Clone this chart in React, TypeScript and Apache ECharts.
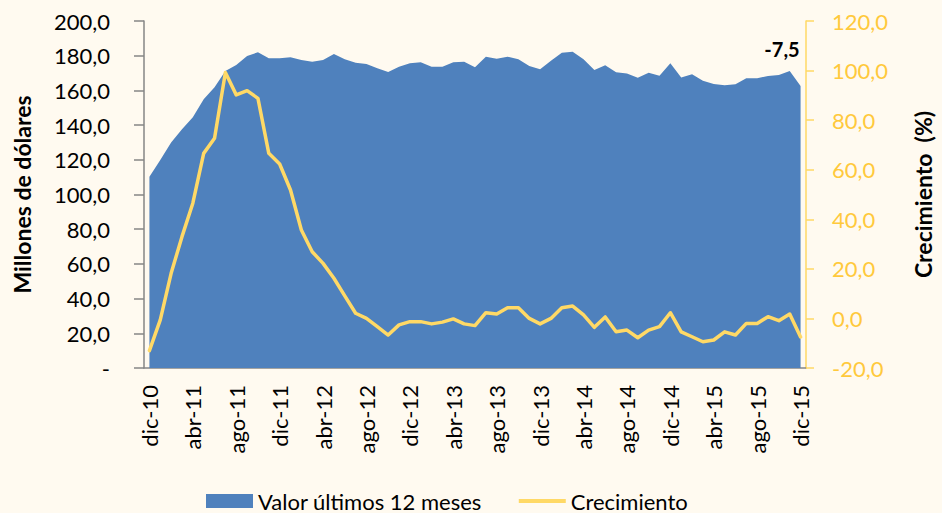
import React, { useEffect, useRef } from "react";
import * as echarts from "echarts";

const months = ["ene", "feb", "mar", "abr", "may", "jun", "jul", "ago", "sep", "oct", "nov", "dic"];
const categories: string[] = (() => {
  const out: string[] = ["dic-10"];
  for (let y = 11; y <= 15; y++) for (const m of months) out.push(`${m}-${y}`);
  return out;
})();

const valor: number[] = [
  110.3, 119.9, 129.9, 137.6, 144.5, 154.9, 161.8, 171.2, 174.6, 179.8,
  182.0, 178.5, 178.5, 179.1, 177.5, 176.5, 177.5, 181.0, 177.9, 176.0,
  175.2, 172.7, 170.6, 173.7, 175.6, 176.2, 173.7, 173.7, 176.2, 176.5,
  173.3, 179.4, 178.3, 179.4, 177.9, 174.1, 172.2, 177.1, 181.7, 182.3,
  177.9, 171.8, 174.5, 170.4, 169.8, 167.3, 170.2, 168.5, 175.6, 167.5,
  169.3, 165.6, 163.7, 162.9, 163.5, 167.0, 167.0, 168.3, 168.9, 171.2,
  162.5,
];

const crecimiento: number[] = [
  -13.0, -0.6, 18.2, 33.0, 46.5, 66.6, 72.7, 99.2, 90.2, 91.9,
  88.8, 66.6, 62.3, 51.8, 35.7, 26.9, 22.2, 16.2, 9.1, 2.1,
  0.0, -3.3, -6.7, -2.6, -1.3, -1.3, -2.2, -1.5, -0.2, -2.2,
  -2.9, 2.3, 1.8, 4.3, 4.3, 0.0, -2.2, 0.0, 4.3, 5.0,
  1.4, -3.6, 0.6, -5.4, -4.7, -7.8, -4.7, -3.3, 2.3, -5.4,
  -7.4, -9.4, -8.7, -5.4, -6.7, -2.0, -2.0, 0.7, -0.9, 1.8,
  -7.5,
];

const lastLabel = "-7,5";

const FONT = "Lato, 'Noto Sans', sans-serif";
const fmt = (v: number) => v.toFixed(1).replace(".", ",");

export default function App() {
  const ref = useRef<HTMLDivElement>(null);
  useEffect(() => {
    if (!ref.current) return;
    const chart = echarts.init(ref.current, null, { renderer: "svg" });
    chart.setOption({
      animation: false,
      backgroundColor: "#FFFAF0",
      textStyle: { fontFamily: FONT },
      grid: { left: 144, right: 130, top: 21, bottom: 145 },
      legend: {
        left: 201,
        top: 485,
        itemWidth: 47,
        itemHeight: 14,
        itemGap: 37,
        textStyle: { fontSize: 22, color: "#000", fontFamily: FONT },
        data: [
          { name: "Valor últimos 12 meses", icon: "rect" },
          { name: "Crecimiento", icon: "path://M0,0 L50,0 L50,4 L0,4 Z" },
        ],
      },
      xAxis: {
        type: "category",
        data: categories,
        boundaryGap: true,
        axisLine: { lineStyle: { color: "#868686", width: 1.5 } },
        axisTick: { interval: 3, length: 7, lineStyle: { color: "#868686", width: 1.5 } },
        axisLabel: {
          interval: 3,
          rotate: 90,
          fontSize: 22,
          color: "#000",
          margin: 17,
          fontFamily: FONT,
        },
      },
      yAxis: [
        {
          type: "value",
          min: 0,
          max: 200,
          interval: 20,
          name: "Millones de dólares",
          nameLocation: "middle",
          nameRotate: 90,
          nameGap: 111,
          nameTextStyle: { fontSize: 23, fontWeight: "bold", color: "#000", fontFamily: FONT },
          splitLine: { show: false },
          axisLine: { show: true, lineStyle: { color: "#868686", width: 1.5 } },
          axisTick: { show: true, length: 10, lineStyle: { color: "#868686", width: 1.5 } },
          axisLabel: {
            fontSize: 22,
            color: "#000",
            margin: 34,
            fontFamily: FONT,
            formatter: (v: number) => (v === 0 ? "-" : fmt(v)),
          },
        },
        {
          type: "value",
          min: -20,
          max: 120,
          interval: 20,
          position: "right",
          name: "Crecimiento  (%)",
          nameLocation: "middle",
          nameRotate: 90,
          nameGap: 105,
          nameTextStyle: { fontSize: 23, fontWeight: "bold", color: "#000", fontFamily: FONT },
          splitLine: { show: false },
          axisLine: { show: true, lineStyle: { color: "#FFD966", width: 1.5 } },
          axisTick: { show: true, length: 8, lineStyle: { color: "#FFD966", width: 1.5 } },
          axisLabel: {
            fontSize: 22,
            color: "#FFC93C",
            margin: 26,
            fontFamily: FONT,
            formatter: (v: number) => fmt(v),
          },
        },
      ],
      series: [
        {
          name: "Valor últimos 12 meses",
          type: "line",
          data: valor,
          yAxisIndex: 0,
          symbol: "none",
          lineStyle: { width: 0, color: "#4F81BD" },
          itemStyle: { color: "#4F81BD" },
          areaStyle: { color: "#4F81BD", opacity: 1 },
        },
        {
          name: "Crecimiento",
          type: "line",
          data: crecimiento,
          yAxisIndex: 1,
          symbol: "none",
          lineStyle: { width: 3.5, color: "#FFD966", cap: "round", join: "round" },
          itemStyle: { color: "#FFD966" },
        },
      ],
      graphic: [
        {
          type: "text",
          x: 782,
          y: 49,
          style: {
            text: lastLabel,
            fill: "#000",
            font: `bold 20px ${FONT}`,
            align: "center",
            verticalAlign: "middle",
          },
        },
      ],
    });
    return () => chart.dispose();
  }, []);
  return <div ref={ref} style={{ width: 942, height: 513, position: "absolute", left: 0, top: 0 }} />;
}
